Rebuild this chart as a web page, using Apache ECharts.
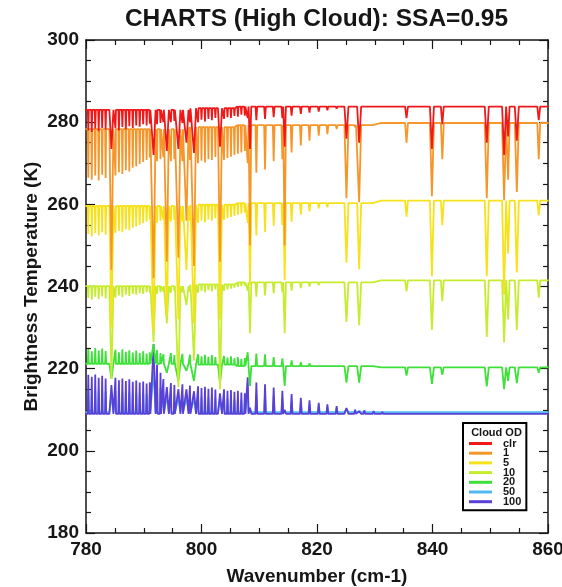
<!DOCTYPE html>
<html><head><meta charset="utf-8">
<script src="https://cdn.jsdelivr.net/npm/echarts@6/dist/echarts.min.js"></script>
<style>html,body{margin:0;padding:0;background:#fff}#c{width:562px;height:587px}</style>
</head><body><div id="c"></div>
<script>
// ---- data ----
const seriesNames = ['clr','1','5','10','20','50','100'];
const seriesColors = ['#f01818','#f6962a','#f6e21c','#c6ec30','#3ee03a','#52b8f0','#5a40d6'];
const xTicks = [780, 800, 820, 840, 860];
const yTicks = [180, 200, 220, 240, 260, 280, 300];

// line centres (cm-1) and half widths (cm-1)
const lineWn = [
  780.0, 780.4, 781.0, 781.6, 782.2, 782.8, 783.4, 784.4, 785.1, 785.7,
  786.3, 786.9, 787.5, 788.1, 788.7, 789.3, 789.9, 790.5, 791.05, 791.7,
  792.3, 792.9, 793.4, 794.0, 794.7, 795.3, 796.0, 796.7, 797.4, 798.0,
  798.7, 799.4, 800.0, 800.6, 801.2, 801.8, 802.4, 803.2, 803.9, 804.5,
  805.1, 805.7, 806.3, 806.9, 807.5, 808.0, 808.4, 809.5, 811.0, 812.5,
  814.0, 814.4, 815.6, 817.2, 818.7, 820.3, 821.8, 823.4, 825.1, 826.6,
  827.3, 828.2, 829.8, 831.3, 832.8, 835.5, 839.9, 841.7, 849.4, 852.4,
  853.1, 854.6, 858.4, 860.0
];
const lineHalfWidth = [
  .1,.09,.09,.09,.09,.09,.09,.35,.09,.09,
  .09,.09,.09,.09,.09,.09,.09,.09,.09,.35,
  .09,.09,.09,.35,.09,.09,.35,.09,.35,.09,
  .35,.09,.09,.09,.09,.09,.09,.35,.09,.09,
  .09,.09,.09,.09,.09,.15,.22,.15,.15,.15,
  .15,.22,.15,.15,.15,.15,.15,.15,.35,.15,
  .35,.15,.15,.15,.15,.25,.35,.25,.35,.35,
  .25,.35,.25,.1
];

// continuum levels (K) from a given wavenumber on
const cont_clr = [[780,283.0],[798,283.4],[806,283.8]];
const cont_1   = [[780,278.3],[798,278.8],[806,279.3],[830,279.8]];
const cont_5   = [[780,259.6],[798,259.9],[806,260.3],[830,260.9]];
const cont_10  = [[780,240.1],[798,240.5],[806,241.0],[830,241.5]];
const cont_20  = [[780,221.2],[798,221.0],[806,220.6],[830,220.3]];
const cont_50  = [[780,209.4]];
const cont_100 = [[780,209.0]];

// brightness temperature at line centres (K)
const bt_clr = [
  283.0, 278.0, 277.6, 278.4, 277.8, 278.6, 278.2, 273.5, 278.5, 278.0,
  278.8, 278.3, 279.0, 278.6, 279.2, 278.9, 279.5, 279.2, 279.6, 272.0,
  279.5, 279.8, 280.0, 273.0, 280.0, 280.3, 273.5, 279.8, 275.0, 280.0,
  272.5, 280.0, 280.6, 280.2, 280.8, 280.5, 281.0, 274.0, 280.8, 281.2,
  281.0, 281.5, 281.3, 281.8, 281.6, 281.0, 273.5, 280.5, 280.8, 281.2,
  281.0, 274.0, 281.6, 282.0, 282.3, 282.6, 282.9, 283.3, 276.0, 283.5,
  275.0, 283.6, 283.7, 283.8, 283.8, 281.0, 273.5, 279.5, 275.0, 272.0,
  276.5, 275.5, 280.5, 283.9
];
const bt_1 = [
  278.3, 266.5, 266.0, 267.0, 265.8, 267.2, 266.4, 244.0, 267.0, 267.8,
  267.4, 268.3, 268.0, 268.9, 269.2, 269.8, 270.3, 270.8, 271.4, 242.0,
  270.5, 271.0, 271.5, 246.0, 270.5, 271.0, 247.0, 270.5, 256.0, 270.8,
  245.0, 270.0, 270.6, 270.2, 271.0, 270.8, 271.5, 246.0, 270.8, 271.3,
  271.6, 272.0, 272.3, 272.6, 273.0, 270.0, 250.0, 267.7, 268.5, 270.5,
  271.0, 250.0, 272.6, 274.3, 275.5, 276.7, 277.1, 278.3, 261.5, 278.8,
  260.5, 279.0, 279.2, 279.6, 279.7, 275.0, 262.0, 271.0, 261.5, 261.0,
  266.0, 263.0, 271.0, 280.0
];
const bt_5 = [
  259.6, 252.8, 252.2, 253.0, 252.4, 253.2, 252.6, 230.0, 253.0, 253.5,
  253.2, 253.9, 253.7, 254.3, 254.6, 255.0, 255.4, 255.8, 256.3, 229.0,
  255.5, 256.0, 256.3, 233.0, 255.8, 256.2, 232.0, 255.8, 244.0, 256.0,
  231.0, 255.5, 256.0, 255.6, 256.3, 256.0, 256.6, 232.0, 256.2, 256.6,
  256.9, 257.2, 257.5, 257.7, 258.0, 255.5, 240.5, 252.4, 253.3, 254.8,
  255.0, 241.5, 255.8, 257.5, 258.3, 259.0, 259.3, 259.9, 245.8, 260.2,
  244.2, 260.4, 260.5, 260.7, 260.8, 257.0, 242.5, 254.9, 242.5, 238.0,
  248.0, 243.4, 257.3, 261.1
];
const bt_10 = [
  240.1, 237.2, 236.8, 237.5, 236.9, 237.6, 237.1, 217.5, 237.3, 237.8,
  237.4, 238.0, 237.7, 238.2, 238.0, 238.4, 238.2, 238.6, 238.5, 226.5,
  238.2, 238.6, 238.8, 231.0, 238.5, 238.9, 215.5, 238.6, 235.5, 238.8,
  222.0, 238.5, 238.9, 238.6, 239.1, 238.8, 239.3, 215.0, 239.0, 239.3,
  239.5, 239.7, 239.9, 240.1, 240.2, 239.0, 228.6, 237.5, 237.8, 238.3,
  238.6, 228.6, 239.0, 239.6, 240.0, 240.3, 240.6, 241.0, 231.4, 241.2,
  230.6, 241.3, 241.4, 241.4, 241.5, 238.8, 229.4, 236.4, 227.7, 226.4,
  232.0, 229.4, 237.3, 241.7
];
const bt_20 = [
  221.2, 224.8, 224.2, 225.0, 224.4, 224.9, 224.3, 217.5, 224.6, 224.0,
  224.7, 224.1, 224.5, 223.9, 224.4, 223.8, 224.2, 223.7, 224.0, 226.0,
  224.5, 223.8, 223.5, 219.0, 223.8, 223.3, 217.0, 223.6, 219.5, 223.4,
  217.0, 223.5, 223.0, 223.4, 222.9, 223.3, 222.8, 216.5, 223.1, 222.7,
  223.0, 222.5, 222.8, 222.4, 222.6, 224.0, 215.8, 223.7, 223.5, 222.8,
  222.5, 215.8, 222.0, 221.6, 221.3, 221.0, 220.8, 220.6, 216.6, 220.4,
  216.6, 220.4, 220.3, 220.3, 220.3, 218.3, 216.3, 218.5, 215.7, 215.0,
  217.0, 216.5, 219.0, 220.3
];
const bt_50 = [
  209.4, 215.0, 214.7, 215.1, 214.6, 214.9, 214.5, 213.5, 214.6, 214.2,
  214.5, 214.1, 214.3, 214.0, 214.2, 213.9, 214.1, 213.8, 214.0, 219.5,
  216.5, 215.3, 214.4, 213.2, 213.8, 213.5, 212.9, 213.6, 212.9, 213.4,
  212.6, 213.3, 213.1, 213.3, 213.0, 213.2, 212.9, 212.3, 212.9, 212.7,
  212.8, 212.5, 212.7, 212.4, 212.3, 214.7, 210.1, 213.9, 213.7, 213.2,
  212.7, 209.8, 212.2, 211.7, 211.3, 211.0, 210.7, 210.5, 210.2, 209.9,
  209.7, 209.8, 209.7, 209.6, 209.5, 209.4, 209.4, 209.4, 209.4, 209.4,
  209.4, 209.4, 209.4, 209.4
];
const bt_100 = [
  209.0, 218.5, 218.0, 218.6, 217.8, 218.3, 217.6, 216.0, 217.8, 217.2,
  217.6, 217.0, 217.4, 216.8, 217.1, 216.6, 216.9, 216.4, 216.7, 226.0,
  221.0, 219.0, 217.5, 215.5, 216.5, 216.0, 215.0, 216.2, 215.0, 215.9,
  214.5, 215.7, 215.3, 215.6, 215.1, 215.4, 214.9, 214.0, 215.0, 214.6,
  214.8, 214.4, 214.6, 214.2, 214.0, 217.9, 210.5, 216.6, 216.2, 215.4,
  214.6, 210.0, 213.8, 212.9, 212.3, 211.7, 211.3, 210.9, 210.4, 210.0,
  209.6, 209.9, 209.7, 209.5, 209.3, 209.0, 209.0, 209.0, 209.0, 209.0,
  209.0, 209.0, 209.0, 209.0
];

const btSets = [bt_clr, bt_1, bt_5, bt_10, bt_20, bt_50, bt_100];
const contSets = [cont_clr, cont_1, cont_5, cont_10, cont_20, cont_50, cont_100];
const seriesZ = [10, 9, 8, 7, 6, 4, 5];

// ---- build ----
function contAt(steps, wn) {
  let v = steps[0][1];
  for (const s of steps) if (wn >= s[0]) v = s[1];
  return v;
}
function buildData(bt, steps) {
  const out = [];
  for (let i = 0; i < lineWn.length; i++) {
    const w = lineWn[i], h = lineHalfWidth[i], b = contAt(steps, w);
    out.push([w - h, b], [w, bt[i]], [w + h, b]);
  }
  return out;
}

const FONT = "'Liberation Sans', Arial, Helvetica, sans-serif";
const INK = '#161616';

function axisBase(min, max, interval) {
  return {
    type: 'value', min: min, max: max, interval: interval,
    axisLine: { show: true, onZero: false, lineStyle: { color: INK, width: 1.5 } },
    axisTick: { show: true, inside: true, length: 9, lineStyle: { color: INK, width: 1.2 } },
    minorTick: { show: true, splitNumber: 4, length: 5, lineStyle: { color: INK, width: 1.2 } },
    splitLine: { show: false }, minorSplitLine: { show: false }
  };
}
const labelStyle = { fontSize: 19, fontWeight: 'bold', color: INK, fontFamily: FONT };

const chart = echarts.init(document.getElementById('c'), null, { renderer: 'canvas' });
chart.setOption({
  animation: false,
  backgroundColor: '#fff',
  title: [
    { text: 'CHARTS (High Cloud): SSA=0.95', left: 316.5, textAlign: 'center', top: 7, padding: 0,
      textStyle: { fontSize: 24.5, fontWeight: 'bold', color: INK, fontFamily: FONT } },
    { text: 'Cloud OD', left: 496.5, textAlign: 'center', top: 427, padding: 0, z: 30,
      textStyle: { fontSize: 11, fontWeight: 'bold', color: INK, fontFamily: FONT } }
  ],
  grid: { left: 86, right: 14, top: 40, bottom: 54, outerBoundsMode: 'none', containLabel: false },
  xAxis: [
    Object.assign(axisBase(780, 860, 20), {
      position: 'bottom',
      axisLabel: Object.assign({ margin: 7, formatter: v => xTicks.includes(v) ? String(v) : '' }, labelStyle),
      name: 'Wavenumber (cm-1)', nameLocation: 'middle', nameGap: 34, nameMoveOverlap: false,
      nameTextStyle: labelStyle
    }),
    Object.assign(axisBase(780, 860, 20), { position: 'top', axisLabel: { show: false } })
  ],
  yAxis: [
    Object.assign(axisBase(180, 300, 20), {
      position: 'left',
      axisLabel: Object.assign({ margin: 7, formatter: v => yTicks.includes(v) ? String(v) : '' }, labelStyle),
      name: 'Brightness Temperature (K)', nameLocation: 'middle', nameGap: 45, nameMoveOverlap: false,
      nameTextStyle: labelStyle
    }),
    Object.assign(axisBase(180, 300, 20), { position: 'right', axisLabel: { show: false } })
  ],
  legend: {
    data: seriesNames, orient: 'vertical', left: 463, top: 423,
    icon: 'rect', itemWidth: 23, itemHeight: 3, itemGap: -1.3,
    padding: [15, 5, 3, 6], borderColor: '#000', borderWidth: 2, borderRadius: 0,
    backgroundColor: '#fff', z: 20,
    textStyle: { fontSize: 11, fontWeight: 'bold', color: INK, fontFamily: FONT, lineHeight: 9.7, padding: [0, 0, 0, 6] },
    selectedMode: false
  },
  series: seriesNames.map((n, i) => ({
    name: n, type: 'line', xAxisIndex: 0, yAxisIndex: 0,
    data: buildData(btSets[i], contSets[i]),
    showSymbol: false, symbol: 'none', clip: true,
    z: seriesZ[i],
    color: seriesColors[i],
    lineStyle: { width: 1.8, color: seriesColors[i] }
  }))
});
</script></body></html>
